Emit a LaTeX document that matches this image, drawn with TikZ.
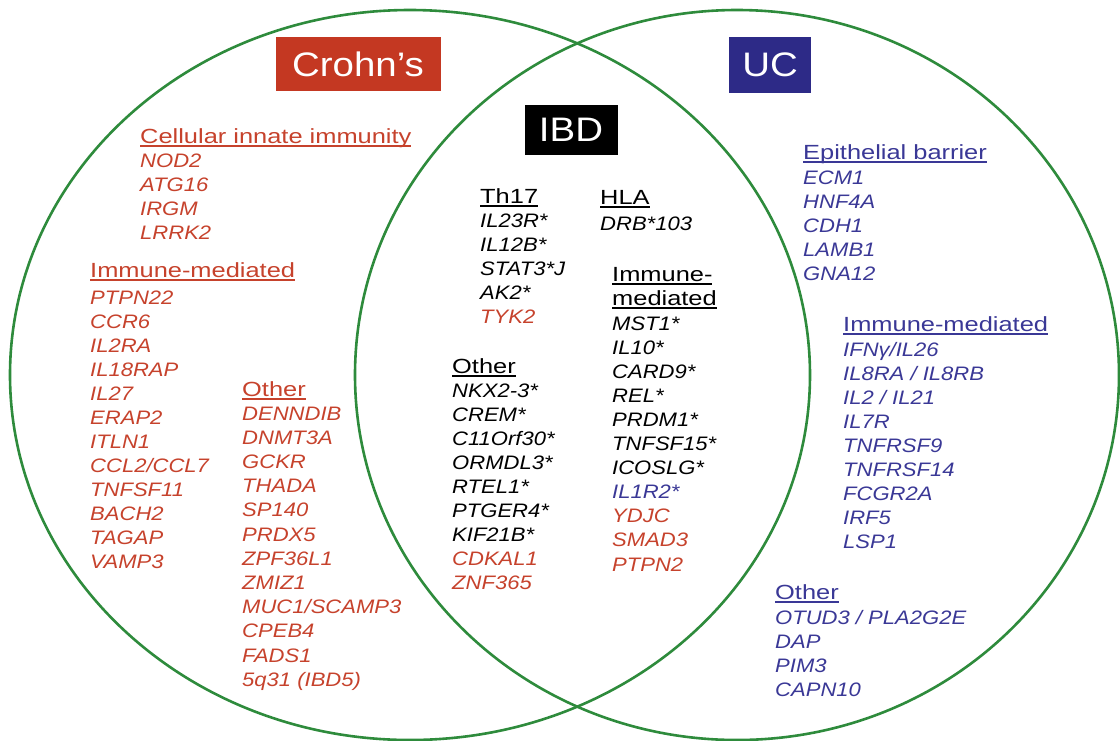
\documentclass[tikz,border=0pt]{standalone}
\usepackage{fontspec}
\setmainfont{Liberation Sans}[FakeStretch=1.13]
\newfontfamily\hdfont{Liberation Sans}[FakeStretch=1.24]
\newsavebox{\hulbox}
\newcommand{\hul}[1]{\sbox{\hulbox}{#1}\rlap{\usebox{\hulbox}}\rule[-4pt]{\wd\hulbox}{1.8pt}}
\definecolor{vgreen}{RGB}{46,139,60}
\definecolor{crd}{RGB}{198,66,44}
\definecolor{crdbox}{RGB}{196,56,34}
\definecolor{ucb}{RGB}{58,56,150}
\definecolor{ucbox}{RGB}{45,42,135}
\tikzset{
  venn/.style={draw=vgreen, line width=2.6pt},
  gene/.style={anchor=base west, inner sep=0pt, font=\fontsize{19.5}{24}\selectfont\itshape},
  head/.style={anchor=base west, inner sep=0pt, font=\hdfont\fontsize{20.5}{24}\selectfont},
  tag/.style={inner sep=0pt, text=white, font=\fontsize{34}{40}\selectfont},
  cr/.style={text=crd},
  uc/.style={text=ucb},
  ib/.style={text=black},
}
\begin{document}
\begin{tikzpicture}[x=1pt,y=-1pt]
\useasboundingbox (0,0) rectangle (1120,740);
% Venn shapes
\draw[venn] (410,375) ellipse [x radius=400pt, y radius=365pt];
\draw[venn] (737,375) ellipse [x radius=382pt, y radius=365pt];
% title boxes
\node[tag, fill=crdbox, minimum width=165pt, minimum height=54pt] (crohn) at (358,64) {Crohn’s};
\node[tag, fill=ucbox, minimum width=82pt, minimum height=56pt] (ucbox) at (770,65) {UC};
\node[tag, fill=black, minimum width=93pt, minimum height=50pt] (ibd) at (571,130) {IBD};
% Crohn's: cellular innate immunity
\node[head,cr] (hA) at (140,143) {\hul{Cellular innate immunity}};
\foreach \g [count=\i from 0] in {NOD2,ATG16,IRGM,LRRK2}
  \node[gene,cr] (gA\i) at (140,167+24.1*\i) {\g};
% Crohn's: immune-mediated
\node[head,cr] (hB) at (90,277) {\hul{Immune-mediated}};
\foreach \g [count=\i from 0] in {PTPN22,CCR6,IL2RA,IL18RAP,IL27,ERAP2,ITLN1,CCL2/CCL7,TNFSF11,BACH2,TAGAP,VAMP3}
  \node[gene,cr] (gB\i) at (90,304+24.0*\i) {\g};
% Crohn's: other
\node[head,cr] (hC) at (242,396) {\hul{Other}};
\foreach \g [count=\i from 0] in {DENNDIB,DNMT3A,GCKR,THADA,SP140,PRDX5,ZPF36L1,ZMIZ1,MUC1/SCAMP3,CPEB4,FADS1,5q31 (IBD5)}
  \node[gene,cr] (gC\i) at (242,420+24.2*\i) {\g};
% IBD: Th17
\node[head,ib] (hD) at (480,203) {\hul{Th17}};
\foreach \g [count=\i from 0] in {IL23R*,IL12B*,STAT3*J,AK2*,\textcolor{crd}{TYK2}}
  \node[gene,ib] (gD\i) at (480,227+24.1*\i) {\g};
% IBD: other
\node[head,ib] (hE) at (452,373) {\hul{Other}};
\foreach \g [count=\i from 0] in {NKX2-3*,CREM*,C11Orf30*,ORMDL3*,RTEL1*,PTGER4*,KIF21B*,\textcolor{crd}{CDKAL1},\textcolor{crd}{ZNF365}}
  \node[gene,ib] (gE\i) at (452,397+24.0*\i) {\g};
% IBD: HLA
\node[head,ib] (hF) at (600,204) {\hul{HLA}};
\node[gene,ib] (gF0) at (600,230) {DRB*103};
% IBD: immune-mediated
\node[head,ib] (hG1) at (612,281) {\hul{Immune-}};
\node[head,ib] (hG2) at (612,305) {\hul{mediated}};
\foreach \g [count=\i from 0] in {MST1*,IL10*,CARD9*,REL*,PRDM1*,TNFSF15*,ICOSLG*,\textcolor{ucb}{IL1R2*},\textcolor{crd}{YDJC},\textcolor{crd}{SMAD3},\textcolor{crd}{PTPN2}}
  \node[gene,ib] (gG\i) at (612,330+24.1*\i) {\g};
% UC: epithelial barrier
\node[head,uc] (hH) at (803,159) {\hul{Epithelial barrier}};
\foreach \g [count=\i from 0] in {ECM1,HNF4A,CDH1,LAMB1,GNA12}
  \node[gene,uc] (gH\i) at (803,184+24.0*\i) {\g};
% UC: immune-mediated
\node[head,uc] (hI) at (843,331) {\hul{Immune-mediated}};
\foreach \g [count=\i from 0] in {IFNγ/IL26,IL8RA / IL8RB,IL2 / IL21,IL7R,TNFRSF9,TNFRSF14,FCGR2A,IRF5,LSP1}
  \node[gene,uc] (gI\i) at (843,356+24.0*\i) {\g};
% UC: other
\node[head,uc] (hJ) at (775,599) {\hul{Other}};
\foreach \g [count=\i from 0] in {OTUD3 / PLA2G2E,DAP,PIM3,CAPN10}
  \node[gene,uc] (gJ\i) at (775,624+24.0*\i) {\g};
\end{tikzpicture}
\end{document}
